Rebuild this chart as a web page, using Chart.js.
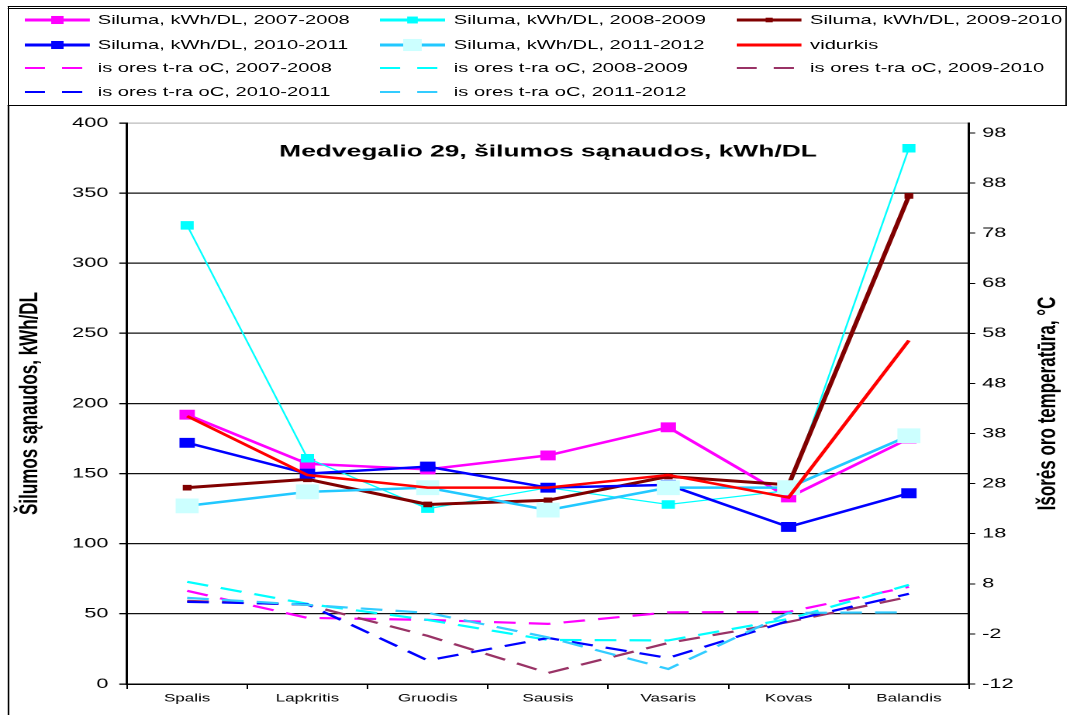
<!DOCTYPE html>
<html>
<head>
<meta charset="utf-8">
<script src="https://cdn.jsdelivr.net/npm/chart.js@4"></script>
<style>
  html, body { margin: 0; padding: 0; background: #fff; }
  body { width: 1070px; height: 715px; overflow: hidden; position: relative; }
  /* the reference is stretched sideways, so the whole drawing is made narrow and scaled in x */
  #wrap { position: absolute; left: 0; top: 0; width: 690px; height: 715px;
          transform-origin: 0 0; transform: scaleX(1.5507);
          font-family: "Liberation Sans", Arial, sans-serif; }
  #legendBox { position: absolute; left: 5px; top: 6px; width: 683px; height: 100px; box-sizing: border-box;
               border: 1px solid #000; border-top: 3px double #000; }
  #frame { position: absolute; left: 5px; top: 105px; height: 610px; border-left: 1px solid #000; }
  .item { position: absolute; height: 16px; width: 225px; font-size: 13px; line-height: 16px; color: #000; white-space: nowrap; }
  .item svg { position: absolute; left: 0; top: 0; }
  .item span { position: absolute; left: 47.5px; top: 0; }
  #chart { position: absolute; left: 0; top: 105px; }
</style>
</head>
<body>
<div id="wrap">
  <div id="legendBox"></div>
  <div id="frame"></div>
  <div id="legend"></div>
  <canvas id="chart" width="690" height="610"></canvas>
</div>
<script>
var months = ['Spalis', 'Lapkritis', 'Gruodis', 'Sausis', 'Vasaris', 'Kovas', 'Balandis'];

// heat use, kWh/DL (left axis)
var heat0708 = [192, 157, 153, 163, 183, 133, 175];
var heat0809 = [327, 161, 125, 140, 128, 138, 382];
var heat0910 = [140, 146, 128, 131, 148, 142, 348];
var heat1011 = [172, 150, 155, 140, 142, 112, 136];
var heat1112 = [127, 137, 140, 124, 140, 140, 177];
var heatAvg  = [191, 149, 140, 140, 149, 133, 245];

// outdoor temperature, oC (right axis)
var temp0708 = [6.6, 1.2, 0.8, 0.0, 2.3, 2.4, 7.4];
var temp0809 = [8.4, 4.0, 0.8, -3.2, -3.3, 1.0, 7.8];
var temp0910 = [4.6, 3.8, -2.4, -9.8, -3.8, 0.4, 5.4];
var temp1011 = [4.4, 3.9, -7.3, -2.8, -6.8, 0.6, 6.0];
var temp1112 = [5.2, 3.8, 2.2, -2.7, -9.0, 2.2, 2.3];

var tempTicks = [-12, -2, 8, 18, 28, 38, 48, 58, 68, 78, 88, 98];

var chartTitle = 'Medvegalio 29, šilumos sąnaudos, kWh/DL';
var leftTitle = 'Šilumos sąnaudos, kWh/DL';
var rightTitle = 'Išorės oro temperatūra, °C';

var family = '"Liberation Sans", Arial, sans-serif';
Chart.defaults.font.family = family;
Chart.defaults.color = '#000';

function heatSet(label, data, color, width, pointColor, radius) {
    return {
        label: label, data: data, yAxisID: 'y',
        borderColor: color, borderWidth: width,
        backgroundColor: pointColor, pointBackgroundColor: pointColor, pointBorderColor: pointColor,
        pointStyle: 'rect', pointRadius: radius, pointBorderWidth: 0,
        tension: 0, fill: false
    };
}
function tempSet(label, data, color) {
    return {
        label: label, data: data, yAxisID: 'y2',
        borderColor: color, borderWidth: 2.2, borderDash: [14, 8.5],
        backgroundColor: color, pointRadius: 0, tension: 0, fill: false
    };
}

var datasets = [
    heatSet('Siluma, kWh/DL, 2007-2008', heat0708, '#ff00ff', 2.5, '#ff00ff', 7),
    heatSet('Siluma, kWh/DL, 2008-2009', heat0809, '#00ffff', 1.2, '#00ffff', 6),
    heatSet('Siluma, kWh/DL, 2009-2010', heat0910, '#800000', 3, '#800000', 4),
    heatSet('Siluma, kWh/DL, 2010-2011', heat1011, '#0000ff', 2.5, '#0000ff', 7),
    heatSet('Siluma, kWh/DL, 2011-2012', heat1112, '#22c8ff', 2.5, '#ccffff', 10.5),
    heatSet('vidurkis', heatAvg, '#ff0000', 2.5, '#ff0000', 0),
    tempSet('is ores t-ra oC, 2007-2008', temp0708, '#ff00ff'),
    tempSet('is ores t-ra oC, 2008-2009', temp0809, '#00ffff'),
    tempSet('is ores t-ra oC, 2009-2010', temp0910, '#993366'),
    tempSet('is ores t-ra oC, 2010-2011', temp1011, '#0000ff'),
    tempSet('is ores t-ra oC, 2011-2012', temp1112, '#33ccff')
];
// later series are drawn on top, as in the original
datasets.forEach(function (ds, i) { ds.order = 20 - i; });

var textPlugin = {
    id: 'textPlugin',
    afterDraw: function (chart) {
        var ctx = chart.ctx, a = chart.chartArea;
        ctx.save();
        ctx.fillStyle = '#000';
        ctx.textAlign = 'center';
        ctx.textBaseline = 'middle';
        ctx.font = 'bold 17px ' + family;
        ctx.fillText(chartTitle, (a.left + a.right) / 2, a.top + 29);
        // right axis title reads bottom to top
        ctx.translate(676, (a.top + a.bottom) / 2);
        ctx.rotate(-Math.PI / 2);
        ctx.fillText(rightTitle, 0, 0);
        ctx.restore();
    }
};

var chart = new Chart(document.getElementById('chart'), {
    type: 'line',
    data: { labels: months, datasets: datasets },
    options: {
        responsive: false,
        animation: false,
        devicePixelRatio: 2,
        layout: { padding: { top: 18, left: 0, right: 0, bottom: 0 } },
        plugins: { legend: { display: false }, tooltip: { enabled: false }, title: { display: false } },
        scales: {
            x: {
                offset: true,
                grid: { offset: true, drawOnChartArea: false, tickLength: 5, color: '#000' },
                border: { color: '#000', width: 1.5 },
                ticks: { font: { size: 11 }, padding: 3, maxRotation: 0, autoSkip: false },
                afterFit: function (s) { s.height = 31; }
            },
            y: {
                position: 'left', min: 0, max: 400,
                ticks: { stepSize: 50, font: { size: 14 }, padding: 7 },
                grid: {
                    color: function (c) { return c.tick && c.tick.value === 400 ? '#bbbbbb' : '#111111'; },
                    tickColor: '#000', lineWidth: 1.3, tickLength: 5
                },
                border: { color: '#000', width: 1.5 },
                title: { display: true, text: leftTitle, font: { size: 17, weight: 'bold' }, padding: { top: 9, bottom: 0 } },
                afterFit: function (s) { s.width = 81.9; }
            },
            y2: {
                position: 'right', min: -12, max: 100,
                afterBuildTicks: function (s) { s.ticks = tempTicks.map(function (v) { return { value: v }; }); },
                ticks: { font: { size: 14 }, padding: 4.5 },
                grid: { drawOnChartArea: false, tickLength: 4, color: '#000' },
                border: { color: '#000', width: 1.5 },
                afterFit: function (s) { s.width = 65.1; }
            }
        }
    },
    plugins: [textPlugin]
});

// legend in three columns, built from the chart's datasets
var legend = document.getElementById('legend');
chart.data.datasets.forEach(function (ds, i) {
    var col = i % 3, row = Math.floor(i / 3);
    var rowY = [20, 45, 68, 92][row];
    var item = document.createElement('div');
    item.className = 'item';
    item.style.left = (15.5 + col * 229.7) + 'px';
    item.style.top = (rowY - 8) + 'px';
    var svg = '<svg width="42" height="16">';
    if (ds.borderDash) {
        svg += '<line x1="0" y1="8" x2="39" y2="8" stroke="' + ds.borderColor + '" stroke-width="2" stroke-dasharray="13 11"/>';
    } else {
        svg += '<line x1="0" y1="8" x2="42" y2="8" stroke="' + ds.borderColor + '" stroke-width="3"/>';
        if (ds.pointRadius > 0) {
            var s = ds.pointRadius * 1.15;
            svg += '<rect x="' + (21 - s / 2) + '" y="' + (8 - s / 2) + '" width="' + s + '" height="' + s + '" fill="' + ds.pointBackgroundColor + '"/>';
        }
    }
    svg += '</svg>';
    item.innerHTML = svg + '<span>' + ds.label + '</span>';
    legend.appendChild(item);
});
</script>
</body>
</html>
